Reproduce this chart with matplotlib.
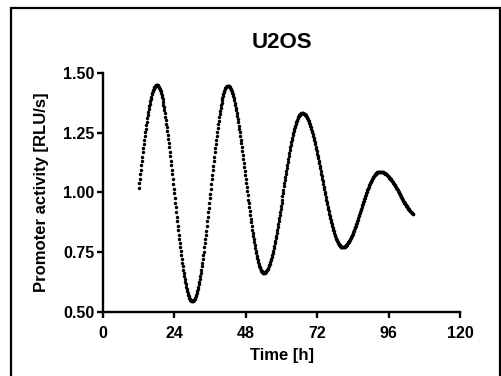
import numpy as np
import matplotlib
matplotlib.use("Agg")
import matplotlib.pyplot as plt
from matplotlib.patches import Rectangle
from matplotlib.ticker import FormatStrFormatter

# U2OS promoter activity, one reading every 10 min from 12 h onwards
t_start_h = 12.0
step_h = 10 / 60

rise_12_18 = [1.020, 1.039, 1.057, 1.076, 1.095, 1.113, 1.131, 1.149, 1.167, 1.185, 1.202, 1.219,
              1.235, 1.251, 1.267, 1.282, 1.296, 1.311, 1.324, 1.337, 1.349, 1.361, 1.372, 1.383,
              1.392, 1.401, 1.410, 1.417, 1.424, 1.430, 1.435, 1.440, 1.443, 1.446, 1.448, 1.450,
              1.450]
fall_18_30 = [1.450, 1.448, 1.446, 1.443, 1.439, 1.435, 1.429, 1.423, 1.415, 1.408, 1.399, 1.389,
              1.379, 1.368, 1.356, 1.344, 1.331, 1.317, 1.303, 1.288, 1.273, 1.257, 1.240, 1.223,
              1.206, 1.188, 1.170, 1.152, 1.133, 1.114, 1.095, 1.075, 1.056, 1.036, 1.016, 0.997,
              0.977, 0.957, 0.937, 0.918, 0.898, 0.879, 0.860, 0.841, 0.823, 0.805, 0.787, 0.770,
              0.753, 0.736, 0.720, 0.705, 0.690, 0.676, 0.662, 0.649, 0.637, 0.625, 0.614, 0.604,
              0.594, 0.585, 0.578, 0.570, 0.564, 0.558, 0.554, 0.550, 0.547, 0.545, 0.543, 0.543]
rise_30_42 = [0.543, 0.545, 0.547, 0.550, 0.554, 0.558, 0.564, 0.570, 0.577, 0.585, 0.594, 0.604,
              0.614, 0.625, 0.636, 0.649, 0.662, 0.675, 0.690, 0.704, 0.720, 0.736, 0.752, 0.769,
              0.786, 0.804, 0.822, 0.840, 0.859, 0.878, 0.897, 0.917, 0.936, 0.956, 0.975, 0.995,
              1.015, 1.034, 1.054, 1.073, 1.093, 1.112, 1.131, 1.150, 1.168, 1.186, 1.204, 1.221,
              1.238, 1.254, 1.270, 1.286, 1.300, 1.315, 1.328, 1.341, 1.354, 1.365, 1.376, 1.386,
              1.396, 1.405, 1.413, 1.420, 1.426, 1.432, 1.436, 1.440, 1.443, 1.445, 1.447, 1.447]
fall_42_54 = [1.447, 1.446, 1.444, 1.441, 1.438, 1.434, 1.429, 1.423, 1.417, 1.410, 1.403, 1.394,
              1.386, 1.376, 1.366, 1.355, 1.344, 1.332, 1.320, 1.307, 1.294, 1.280, 1.266, 1.251,
              1.236, 1.221, 1.205, 1.189, 1.173, 1.156, 1.140, 1.123, 1.106, 1.089, 1.072, 1.055,
              1.038, 1.021, 1.004, 0.987, 0.970, 0.954, 0.937, 0.921, 0.905, 0.889, 0.874, 0.859,
              0.844, 0.830, 0.816, 0.803, 0.790, 0.778, 0.766, 0.755, 0.744, 0.734, 0.724, 0.716,
              0.707, 0.700, 0.693, 0.687, 0.681, 0.676, 0.672, 0.669, 0.666, 0.664, 0.663, 0.663]
rise_54_67 = [0.663, 0.664, 0.665, 0.667, 0.670, 0.673, 0.676, 0.680, 0.685, 0.690, 0.695, 0.701,
              0.708, 0.715, 0.722, 0.730, 0.738, 0.747, 0.756, 0.766, 0.776, 0.786, 0.797, 0.807,
              0.819, 0.830, 0.842, 0.854, 0.866, 0.879, 0.892, 0.904, 0.917, 0.931, 0.944, 0.957,
              0.970, 0.984, 0.998, 1.011, 1.025, 1.038, 1.051, 1.064, 1.078, 1.091, 1.103, 1.116,
              1.129, 1.141, 1.153, 1.165, 1.176, 1.188, 1.198, 1.209, 1.219, 1.229, 1.239, 1.248,
              1.257, 1.265, 1.273, 1.280, 1.287, 1.294, 1.300, 1.305, 1.310, 1.315, 1.319, 1.322,
              1.325, 1.328, 1.330, 1.331, 1.332, 1.332]
fall_67_80 = [1.332, 1.331, 1.330, 1.329, 1.327, 1.324, 1.322, 1.319, 1.315, 1.311, 1.307, 1.302,
              1.297, 1.292, 1.286, 1.280, 1.273, 1.266, 1.259, 1.252, 1.244, 1.236, 1.227, 1.219,
              1.210, 1.201, 1.192, 1.182, 1.172, 1.162, 1.152, 1.142, 1.132, 1.121, 1.111, 1.100,
              1.089, 1.078, 1.067, 1.056, 1.046, 1.035, 1.024, 1.013, 1.002, 0.991, 0.981, 0.970,
              0.960, 0.950, 0.940, 0.930, 0.920, 0.911, 0.901, 0.892, 0.883, 0.875, 0.866, 0.858,
              0.850, 0.843, 0.836, 0.829, 0.822, 0.816, 0.810, 0.805, 0.800, 0.795, 0.791, 0.787,
              0.783, 0.780, 0.778, 0.775, 0.773, 0.772, 0.771, 0.770, 0.770]
rise_80_93 = [0.770, 0.771, 0.771, 0.772, 0.773, 0.775, 0.777, 0.779, 0.781, 0.784, 0.787, 0.790,
              0.793, 0.796, 0.800, 0.804, 0.809, 0.813, 0.818, 0.822, 0.827, 0.833, 0.838, 0.844,
              0.849, 0.855, 0.861, 0.867, 0.873, 0.880, 0.886, 0.892, 0.899, 0.905, 0.912, 0.919,
              0.925, 0.932, 0.938, 0.945, 0.952, 0.958, 0.965, 0.971, 0.977, 0.984, 0.990, 0.996,
              1.002, 1.008, 1.013, 1.019, 1.024, 1.030, 1.035, 1.039, 1.044, 1.048, 1.053, 1.057,
              1.061, 1.064, 1.067, 1.070, 1.073, 1.076, 1.078, 1.080, 1.082, 1.084, 1.085, 1.086,
              1.086, 1.087, 1.087]
fall_93_104 = [1.087, 1.087, 1.086, 1.086, 1.085, 1.084, 1.084, 1.082, 1.081, 1.080, 1.078, 1.077,
               1.075, 1.073, 1.071, 1.069, 1.067, 1.065, 1.062, 1.060, 1.057, 1.054, 1.051, 1.049,
               1.046, 1.042, 1.039, 1.036, 1.033, 1.029, 1.026, 1.022, 1.019, 1.015, 1.012, 1.008,
               1.004, 1.001, 0.997, 0.993, 0.990, 0.986, 0.982, 0.979, 0.975, 0.971, 0.968, 0.964,
               0.961, 0.957, 0.954, 0.950, 0.947, 0.944, 0.941, 0.937, 0.934, 0.932, 0.929, 0.926,
               0.923, 0.921, 0.918, 0.916, 0.914, 0.912, 0.910, 0.908]

x_ticks = [0, 24, 48, 72, 96, 120]
y_ticks = [0.50, 0.75, 1.00, 1.25, 1.50]

activity = np.array(rise_12_18 + fall_18_30 + rise_30_42 + fall_42_54 +
                    rise_54_67 + fall_67_80 + rise_80_93 + fall_93_104)
time_h = t_start_h + step_h * np.arange(len(activity))

plt.rcParams['font.family'] = ['Liberation Sans', 'DejaVu Sans']
plt.rcParams['font.weight'] = 'bold'

fig = plt.figure(figsize=(5.02, 3.76), dpi=100)
ax = fig.add_axes([103 / 502, 1 - 311.7 / 376, 357 / 502, 238.7 / 376])

ax.plot(time_h, activity, 'o', ms=2.5, mew=0, color='black')

ax.set_xlim(0, 120)
ax.set_ylim(0.5, 1.5)
ax.set_xticks(x_ticks)
ax.set_yticks(y_ticks)
ax.yaxis.set_major_formatter(FormatStrFormatter('%.2f'))

for side in ['top', 'right']:
    ax.spines[side].set_visible(False)
for side in ['left', 'bottom']:
    ax.spines[side].set_linewidth(1.7)

ax.tick_params(direction='out', length=4, width=1.7, labelsize=11.5)
ax.tick_params(axis='x', pad=6.5)
ax.tick_params(axis='y', pad=2)

ax.set_xlabel('Time [h]', fontsize=12, fontweight='bold', labelpad=4.5)
ax.set_ylabel('Promoter activity [RLU/s]', fontsize=12, fontweight='bold', labelpad=10)
ax.set_title('U2OS', fontsize=16, fontweight='bold', pad=18)

# frame round the whole panel
fig.patches.append(Rectangle((11.5 / 502, -0.1), 489 / 502, 1.1 - 8.3 / 376,
                             transform=fig.transFigure, fill=False,
                             edgecolor='black', linewidth=1.6))

fig.savefig('out.png', dpi=100)
